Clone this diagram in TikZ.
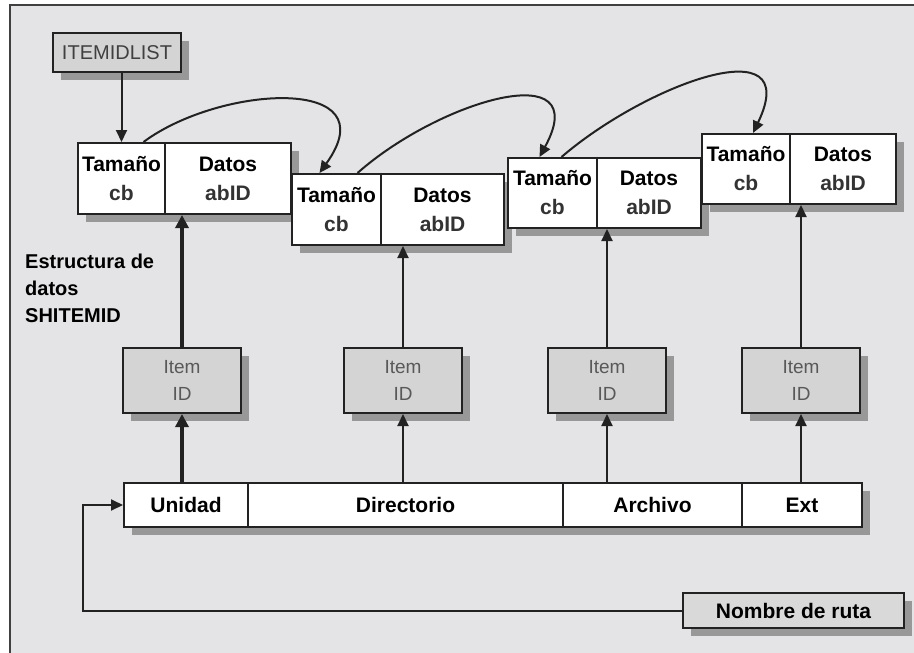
\documentclass[tikz,border=0pt]{standalone}
\usepackage{fontspec}
\setmainfont{Liberation Sans}
\usetikzlibrary{arrows.meta,shadows}
\definecolor{bggray}{HTML}{E4E4E6}
\definecolor{shadegray}{HTML}{989898}
\definecolor{boxgray}{HTML}{D4D4D4}
\definecolor{rutagray}{HTML}{D9D9D9}
\definecolor{linegray}{HTML}{222222}
\tikzset{
  shade8/.style={drop shadow={shadow xshift=8pt,shadow yshift=-8pt,fill=shadegray,opacity=1}},
  cell/.style={draw=linegray,line width=2pt,fill=white,anchor=north west,inner sep=0pt,
               align=center,shade8,font=\fontsize{21}{29}\selectfont\bfseries},
  graybox/.style={cell,fill=boxgray,font=\fontsize{19}{27}\selectfont,text=black!65},
  link/.style={linegray,line width=2pt,-{Triangle[length=12pt,width=11pt]}},
  thicklink/.style={link,line width=3.2pt,-{Triangle[length=13pt,width=13pt]}},
}
\begin{document}
\begin{tikzpicture}[x=1pt,y=-1pt]
  \useasboundingbox (0,0) rectangle (914,653);
  \fill[bggray] (10,5) rectangle (914,653);
  \draw[black!75,line width=2pt] (10,653) -- (10,5) -- (914,5);

  \node[graybox,minimum width=128pt,minimum height=39pt,text=black!75,font=\fontsize{20}{24}\selectfont] (itemidlist) at (52,32) {ITEMIDLIST};

  % cadena de SHITEMID
  \node[cell,minimum width=87pt, minimum height=71pt] (tam1) at (77,142)  {Tamaño\\{\color{black!80}cb}};
  \node[cell,minimum width=126pt,minimum height=71pt] (dat1) at (164,142) {Datos\\{\color{black!80}abID}};
  \node[cell,minimum width=89pt, minimum height=71pt] (tam2) at (291,173) {Tamaño\\{\color{black!80}cb}};
  \node[cell,minimum width=123pt,minimum height=71pt] (dat2) at (380,173) {Datos\\{\color{black!80}abID}};
  \node[cell,minimum width=89pt, minimum height=70pt] (tam3) at (507,157) {Tamaño\\{\color{black!80}cb}};
  \node[cell,minimum width=104pt,minimum height=70pt] (dat3) at (596,157) {Datos\\{\color{black!80}abID}};
  \node[cell,minimum width=88pt, minimum height=70pt] (tam4) at (701,133) {Tamaño\\{\color{black!80}cb}};
  \node[cell,minimum width=106pt,minimum height=70pt] (dat4) at (789,133) {Datos\\{\color{black!80}abID}};

  \node[anchor=north west,align=left,inner sep=0pt,font=\fontsize{20}{27}\selectfont\bfseries] (estructura) at (25,254) {Estructura de\\datos\\SHITEMID};

  % ruta
  \node[cell,minimum width=124pt,minimum height=44pt] (uni) at (123,482) {Unidad};
  \node[cell,minimum width=315pt,minimum height=44pt] (dir) at (247,482) {Directorio};
  \node[cell,minimum width=179pt,minimum height=44pt] (arc) at (562,482) {Archivo};
  \node[cell,minimum width=120pt,minimum height=44pt] (ext) at (741,482) {Ext};
  \node[graybox,fill=rutagray,text=black,font=\fontsize{21}{25}\selectfont\bfseries,
        minimum width=221pt,minimum height=35pt] (ruta) at (682,592) {Nombre de ruta};

  \foreach \i/\x in {1/182,2/403,3/607,4/801}
    \node[graybox,anchor=north,minimum width=118pt,minimum height=65pt] (item\i) at (\x,347) {Item\\ID};

  \foreach \i in {2,3,4}{
    \draw[link] (item\i.north) -- (item\i.north |- dat\i.south);
    \draw[link] (item\i.south |- uni.north) -- (item\i.south);
  }
  \draw[thicklink] (item1.north) -- (item1.north |- dat1.south);
  \draw[thicklink] (item1.south |- uni.north) -- (item1.south);

  \draw[link] (tam1.north |- itemidlist.south) -- (tam1.north);
  \draw[link] ([xshift=22pt]tam1.north) .. controls (220,85) and (390,75) .. ([xshift=-17pt]tam2.north);
  \draw[link] ([xshift=21pt]tam2.north) .. controls (440,100) and (595,55) .. ([xshift=-13pt]tam3.north);
  \draw[link] ([xshift=9pt]tam3.north) .. controls (645,85) and (805,25) .. ([xshift=7pt]tam4.north);

  \coordinate (turn) at (83,0);
  \draw[link] (ruta.west) -- (ruta.west -| turn) |- (uni.west);
\end{tikzpicture}
\end{document}
